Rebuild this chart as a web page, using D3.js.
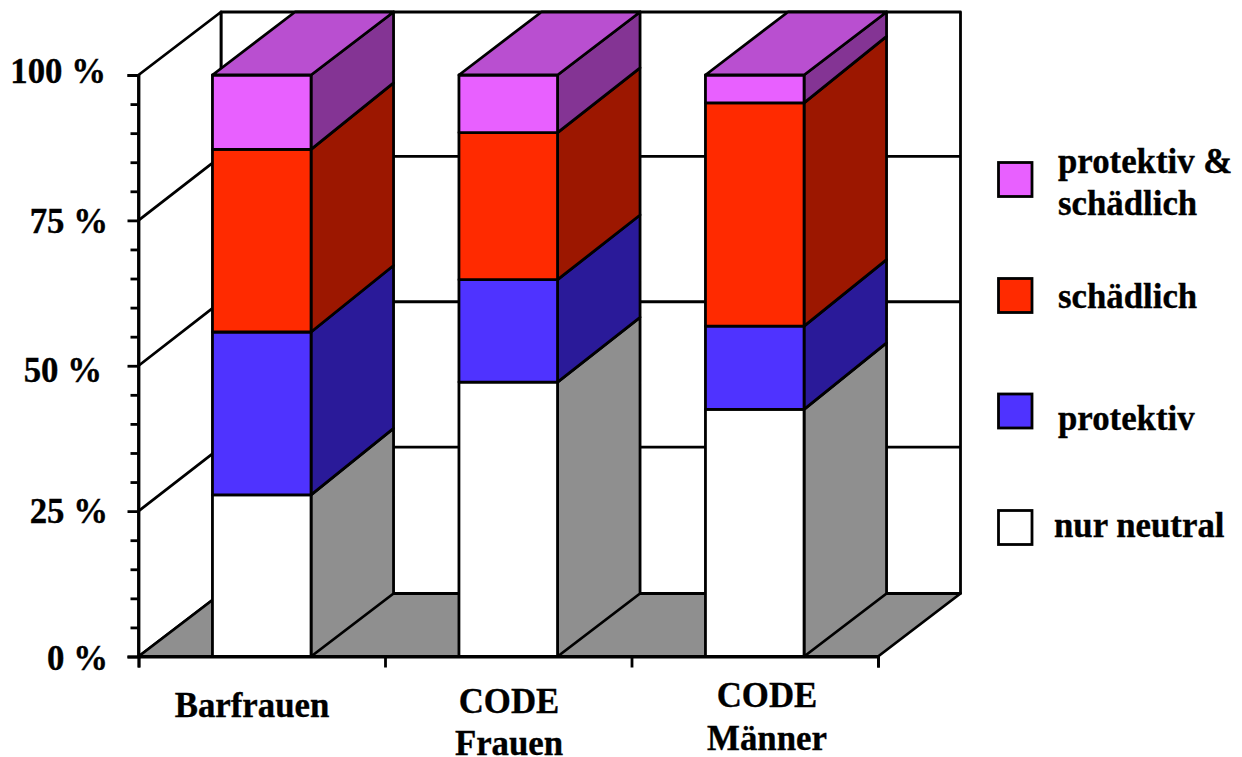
<!DOCTYPE html>
<html>
<head>
<meta charset="utf-8">
<script src="https://cdn.jsdelivr.net/npm/d3@7"></script>
<style>
    html, body { margin: 0; padding: 0; background: #fff; }
    svg { display: block; }
    text { font-family: "Liberation Serif", serif; font-weight: bold; font-size: 34.8px; fill: #000; stroke: #000; stroke-width: 0.35px; }
</style>
</head>
<body>
<div id="chart"></div>
<script>
const categories = ['Barfrauen', 'CODE Frauen', 'CODE Männer'];
const seriesNames = ['nur neutral', 'protektiv', 'schädlich', 'protektiv & schädlich'];

// percent of each group
const nurNeutral = [27.8, 47.2, 42.5];
const protektiv = [28.0, 17.6, 14.3];
const schaedlich = [31.4, 25.3, 38.4];
const beides = [12.8, 9.9, 4.8];

const majorTicks = [0, 25, 50, 75, 100];
const minorTicks = [5, 10, 15, 20, 30, 35, 40, 45, 55, 60, 65, 70, 80, 85, 90, 95];

const faceColors = ['#ffffff', '#4f33ff', '#ff2a00', '#e860ff'];
const sideColors = ['#8f8f8f', '#2a1a99', '#9c1700', '#843494'];
const topColor = '#b94fd0';

const width = 1242;
const height = 757;
const depthX = 82.5;
const depthY = -63;
// the inner edges of the bar sides run a little steeper than the top and floor
const innerDepthY = [-66.5, -64.7, -66.5];
const lineWidth = 2.8;

const svg = d3.select('#chart').append('svg').attr('width', width).attr('height', height);

const x = d3.scaleBand().domain(categories).range([138.5, 878]).paddingInner(0.6).paddingOuter(0.3);
const y = d3.scaleLinear().domain([0, 100]).range([656.5, 75]);

const rows = categories.map((c, i) => ({
    category: c,
    [seriesNames[0]]: nurNeutral[i],
    [seriesNames[1]]: protektiv[i],
    [seriesNames[2]]: schaedlich[i],
    [seriesNames[3]]: beides[i]
}));
const stacked = d3.stack().keys(seriesNames)(rows);

const line = d3.line();
function poly(g, points, fill) {
    return g.append('path')
        .attr('d', line(points) + 'Z')
        .attr('fill', fill)
        .attr('stroke', '#000')
        .attr('stroke-width', lineWidth)
        .attr('stroke-linejoin', 'round');
}

// walls and floor
const walls = svg.append('g');
const x0 = x.range()[0];
const x1 = x.range()[1];
poly(walls, [[x0 + depthX, y(100) + depthY], [x1 + depthX, y(100) + depthY], [x1 + depthX, y(0) + depthY], [x0 + depthX, y(0) + depthY]], '#fff');
poly(walls, [[x0, y(100)], [x0 + depthX, y(100) + depthY], [x0 + depthX, y(0) + depthY], [x0, y(0)]], '#fff');
poly(walls, [[x0, y(0)], [x0 + depthX, y(0) + depthY], [x1 + depthX, y(0) + depthY], [x1, y(0)]], '#8f8f8f');

// gridlines on side wall and back wall
[25, 50, 75].forEach(v => {
    walls.append('path')
        .attr('d', line([[x0, y(v)], [x0 + depthX, y(v) + depthY - 1], [x1 + depthX, y(v) + depthY - 1]]))
        .attr('fill', 'none')
        .attr('stroke', '#000')
        .attr('stroke-width', lineWidth);
});

// bars
const bars = svg.append('g');
categories.forEach((c, i) => {
    const left = x(c);
    const right = left + x.bandwidth();
    const backOffset = v => (v === 0 || v === 100) ? depthY : innerDepthY[i];
    stacked.forEach((s, k) => {
        const low = s[i][0];
        const high = Math.round(s[i][1] * 10) / 10;
        const yLow = y(low);
        const yHigh = y(high);
        poly(bars, [[right, yLow], [right + depthX, yLow + backOffset(low)], [right + depthX, yHigh + backOffset(high)], [right, yHigh]], sideColors[k]);
        poly(bars, [[left, yLow], [right, yLow], [right, yHigh], [left, yHigh]], faceColors[k]);
    });
    poly(bars, [[left, y(100)], [left + depthX, y(100) + depthY], [right + depthX, y(100) + depthY], [right, y(100)]], topColor);
});

// y axis, label nudges follow the original picture
const labelNudge = { 0: 12.5, 25: 11.5, 50: 16, 75: 12.5, 100: 7 };
const labelRight = { 0: -30.5, 25: -30.5, 50: -36.5, 75: -30.5, 100: -32.5 };
const yAxis = svg.append('g')
    .attr('transform', `translate(${x0}, 0)`)
    .call(d3.axisLeft(y).tickValues(majorTicks).tickSize(11).tickPadding(0).tickFormat(d => d + ' %'));
yAxis.selectAll('.tick text')
    .attr('x', d => labelRight[d])
    .attr('dy', 0)
    .attr('y', d => labelNudge[d]);
yAxis.append('g')
    .call(d3.axisLeft(y).tickValues(minorTicks).tickSize(8).tickFormat(''))
    .select('.domain').remove();

// x axis
const xTicks = d3.scaleLinear().domain([0, 3]).range([x0, x1]);
const xAxis = svg.append('g')
    .attr('transform', `translate(0, ${y(0)})`)
    .call(d3.axisBottom(xTicks).tickValues([0, 1, 2, 3]).tickSize(11).tickFormat(''));
svg.selectAll('.domain').attr('stroke-width', lineWidth);
svg.selectAll('.tick line').attr('stroke-width', lineWidth).attr('stroke', '#000');

// category labels
const labelLines = [['Barfrauen'], ['CODE', 'Frauen'], ['CODE', 'Männer']];
const labelX = [252, 509, 767];
const labelY = [[717], [713, 755], [707, 750]];
svg.append('g').selectAll('g')
    .data(labelLines)
    .enter()
    .append('text')
    .attr('text-anchor', 'middle')
    .selectAll('tspan')
    .data((d, i) => d.map((t, j) => ({ t, x: labelX[i], y: labelY[i][j] })))
    .enter()
    .append('tspan')
    .attr('x', d => d.x)
    .attr('y', d => d.y)
    .text(d => d.t);

// legend
const legendOrder = [3, 2, 1, 0];
const legendBoxY = [162.5, 278.5, 394, 510.5];
const legendText = [
    [['protektiv &', 1058, 173], ['schädlich', 1058, 215]],
    [['schädlich', 1058, 308]],
    [['protektiv', 1058, 430]],
    [['nur neutral', 1054, 537]]
];
legendOrder.forEach((k, i) => {
    svg.append('rect')
        .attr('x', 998.5)
        .attr('y', legendBoxY[i])
        .attr('width', 33.5)
        .attr('height', 34)
        .attr('fill', faceColors[k])
        .attr('stroke', '#000')
        .attr('stroke-width', lineWidth);
    legendText[i].forEach(t => {
        svg.append('text').attr('x', t[1]).attr('y', t[2]).text(t[0]);
    });
});
</script>
</body>
</html>
